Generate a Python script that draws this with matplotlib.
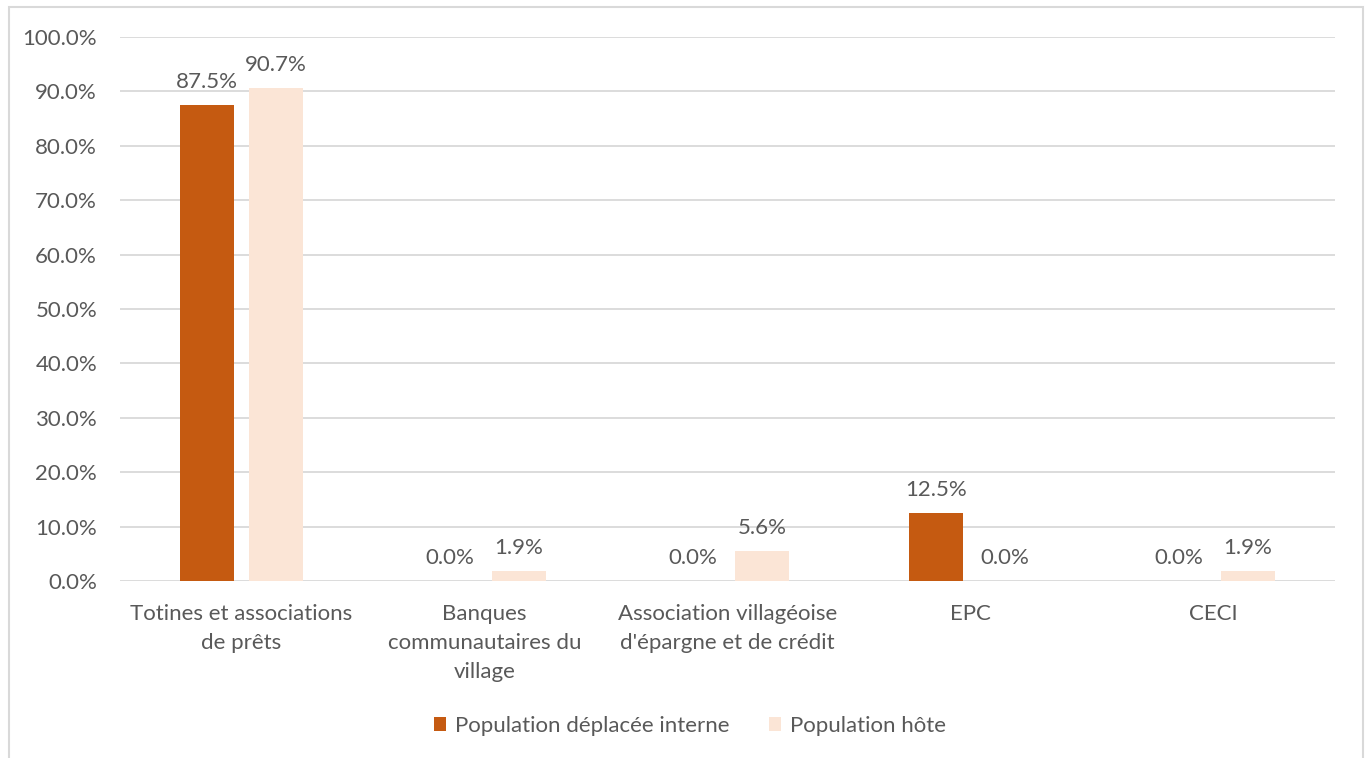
import matplotlib
matplotlib.use("Agg")
import matplotlib.pyplot as plt
import numpy as np
from matplotlib.patches import Rectangle

categories = ["Totines et associations\nde prêts",
              "Banques\ncommunautaires du\nvillage",
              "Association villagéoise\nd'épargne et de crédit",
              "EPC",
              "CECI"]
series_names = ["Population déplacée interne", "Population hôte"]
pdi = [87.5, 0.0, 0.0, 12.5, 0.0]
hote = [90.7, 1.9, 5.6, 0.0, 1.9]
yticks = [0, 10, 20, 30, 40, 50, 60, 70, 80, 90, 100]

colors = ["#C55A11", "#FBE5D6"]
text_color = "#595959"
grid_color = "#D9D9D9"

plt.rcParams['font.family'] = ['Lato', 'DejaVu Sans']
FS = 16

W, H = 1369, 758
fig = plt.figure(figsize=(W/100, H/100), dpi=100)
ax = fig.add_axes([120/W, 1-581/H, (1335-120)/W, (581-37)/H])

x = np.arange(len(categories))
bw = 0.226
off = 0.142
for vals, c, name, d in [(pdi, colors[0], series_names[0], -off), (hote, colors[1], series_names[1], off)]:
    ax.bar(x + d, vals, bw, color=c, label=name, zorder=3)
    for xi, v in zip(x + d, vals):
        ax.annotate(f"{v:.1f}%", (xi, v), xytext=(0, 9), textcoords="offset points",
                    ha="center", va="bottom", fontsize=FS, color=text_color)

ax.set_xlim(-0.5, len(categories) - 0.5)
ax.set_ylim(0, 100)
ax.set_yticks(yticks)
ax.set_yticklabels([f"{t:.1f}%" for t in yticks])
ax.set_xticks(x)
ax.set_xticklabels(categories, linespacing=1.55)
ax.tick_params(axis='both', length=0, labelsize=FS, colors=text_color)
ax.tick_params(axis='x', pad=16.5)
ax.tick_params(axis='y', pad=16.5)
ax.yaxis.grid(True, color=grid_color, linewidth=1.3, zorder=0)
for s in ax.spines.values():
    s.set_visible(False)
ax.set_axisbelow(True)

leg = fig.legend(loc="center", bbox_to_anchor=(690/W, 1-726/H), ncol=2, frameon=False,
                 fontsize=FS, handlelength=0.55, handleheight=0.55, columnspacing=1.75,
                 handletextpad=0.4)
for t in leg.get_texts():
    t.set_color(text_color)

fig.patches.append(Rectangle((8.5/W, -0.05), (1363-8.5)/W, 1.05 - 6.5/H, transform=fig.transFigure,
                             fill=False, edgecolor=grid_color, linewidth=1.5))

fig.savefig("out.png", dpi=100)
